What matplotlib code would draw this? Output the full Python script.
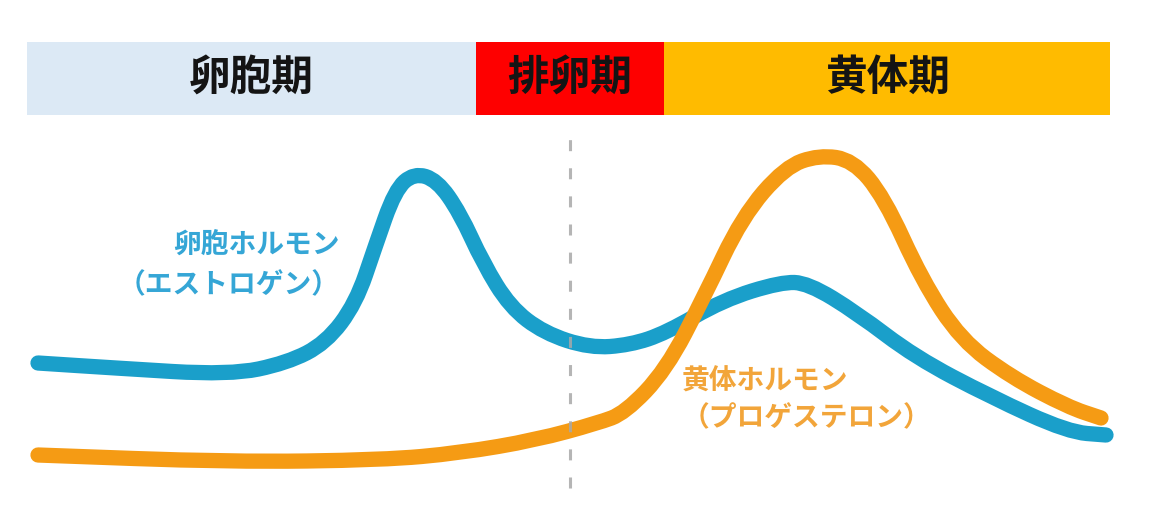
import matplotlib

matplotlib.use("Agg")
import matplotlib.pyplot as plt
import numpy as np
from matplotlib.patches import PathPatch
from matplotlib.path import Path

plt.rcParams["font.family"] = ["Noto Sans CJK JP", "DejaVu Sans"]

# phases of the cycle (start, end along the x scale)
PHASES = ["卵胞期", "排卵期", "黄体期"]
PHASE_START = [27, 476, 664]
PHASE_END = [476, 664, 1110]
PHASE_COLORS = ["#dce9f5", "#fe0000", "#ffbb00"]

OVULATION_X = 570

# hormone levels (x position, level)
EST_X = [38, 115, 230, 287, 326, 356, 375, 395, 414, 437, 460, 483, 510,
         544, 590, 630, 666, 723, 781, 808, 857, 915, 991, 1068, 1106]
EST_Y = [149, 144, 137, 149, 169, 209, 265, 322, 339, 332, 299, 249, 205,
         179, 164, 167, 179, 212, 230, 229, 199, 155, 115, 80, 77]

PRG_X = [38, 230, 383, 460, 536, 598, 625, 666, 704, 742, 785, 819, 853,
         884, 922, 961, 1011, 1068, 1101]
PRG_Y = [57, 50, 52, 59, 72, 89, 99, 142, 215, 295, 345, 357, 352,
         315, 232, 172, 135, 105, 94]

BLUE = "#1a9fca"
ORANGE = "#f59b14"


def smooth_path(xs, ys):
    """Quadratic B-spline through the midpoints, drawn by matplotlib's Path."""
    pts = np.column_stack([xs, ys]).astype(float)
    mids = (pts[:-1] + pts[1:]) / 2
    verts = [pts[0], mids[0]]
    codes = [Path.MOVETO, Path.LINETO]
    for i in range(1, len(pts) - 1):
        verts += [pts[i], mids[i]]
        codes += [Path.CURVE3, Path.CURVE3]
    verts.append(pts[-1])
    codes.append(Path.LINETO)
    return Path(verts, codes)


fig = plt.figure(figsize=(11.7, 5.12), dpi=100)
ax = fig.add_axes([0, 0, 1, 1])
ax.set_xlim(0, 1170)
ax.set_ylim(0, 512)
ax.axis("off")

# phase band
for name, x0, x1, col in zip(PHASES, PHASE_START, PHASE_END, PHASE_COLORS):
    ax.axvspan(x0, x1, ymin=397 / 512, ymax=470 / 512, color=col, lw=0)
    ax.text((x0 + x1) / 2, 434, name, ha="center", va="center",
            fontsize=30, fontweight="bold", color="#141414")

# hormone curves
ax.add_patch(PathPatch(smooth_path(EST_X, EST_Y), fill=False, ec=BLUE,
                       lw=11, capstyle="round", joinstyle="round"))
ax.add_patch(PathPatch(smooth_path(PRG_X, PRG_Y), fill=False, ec=ORANGE,
                       lw=11, capstyle="round", joinstyle="round"))

# ovulation marker
ax.vlines(OVULATION_X, 24, 387, colors="#a8a8a8", lw=2.2,
          linestyles=(0, (3.6, 5.6)), alpha=0.85, zorder=5)

# labels
lab = dict(fontsize=20, fontweight="bold")
ax.text(340, 267, "卵胞ホルモン", ha="right", va="center",
        color="#35a6d6", **lab)
ax.text(340, 227, "（エストロゲン）", ha="right", va="center",
        color="#35a6d6", **lab)
ax.text(682, 130, "黄体ホルモン", ha="left", va="center",
        color="#f2a53a", **lab)
ax.text(682, 94, "（プロゲステロン）", ha="left", va="center",
        color="#f2a53a", **lab)

fig.savefig("out.png", dpi=100)
